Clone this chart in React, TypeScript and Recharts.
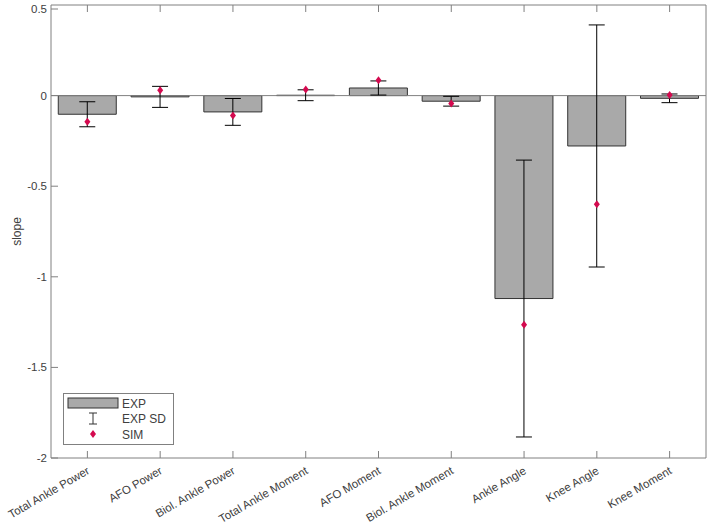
import React from 'react';
import { ComposedChart, Bar, ErrorBar, Scatter, XAxis, YAxis, ReferenceLine } from 'recharts';

// measures compared: experiment (mean + SD) vs simulation
const categories = [
  'Total Ankle Power',
  'AFO Power',
  'Biol. Ankle Power',
  'Total Ankle Moment',
  'AFO Moment',
  'Biol. Ankle Moment',
  'Ankle Angle',
  'Knee Angle',
  'Knee Moment',
];
const expMean = [-0.103, -0.007, -0.09, 0.002, 0.042, -0.031, -1.12, -0.278, -0.015];
const expSd = [0.069, 0.058, 0.074, 0.03, 0.039, 0.027, 0.764, 0.668, 0.024];
const simValues = [-0.145, 0.03, -0.11, 0.033, 0.085, -0.044, -1.265, -0.6, 0.004];
const yTicks = [-2, -1.5, -1, -0.5, 0, 0.5];

const data = categories.map((name, i) => ({
  name,
  exp: expMean[i],
  sd: expSd[i],
  sim: simValues[i],
}));

const FONT = '"Liberation Sans", Arial, Helvetica, sans-serif';
const AXIS = '#808080';
const TEXT = '#404040';
const BAR_FILL = '#a9a9a9';
const BAR_EDGE = '#333333';
const SIM_COLOR = '#d40a4f';

// matlab style: ticks point inwards on all four sides
const LeftTick = ({ x, y, payload }: any) => (
  <g>
    <line x1={x} x2={x + 7} y1={y} y2={y} stroke={AXIS} />
    <text x={x - 4} y={y} dy="0.35em" textAnchor="end" fontSize={11.5} fill={TEXT} fontFamily={FONT}>
      {String(payload.value)}
    </text>
  </g>
);

const RightTick = ({ x, y }: any) => <line x1={x - 7} x2={x} y1={y} y2={y} stroke={AXIS} />;

const TopTick = ({ x, y }: any) => <line x1={x} x2={x} y1={y} y2={y + 7} stroke={AXIS} />;

const BottomTick = ({ x, y, payload }: any) => (
  <g>
    <line x1={x} x2={x} y1={y} y2={y - 7} stroke={AXIS} />
    <text
      x={x + 3}
      y={y + 15}
      textAnchor="end"
      fontSize={11.5}
      fill={TEXT}
      fontFamily={FONT}
      transform={`rotate(-30, ${x + 3}, ${y + 15})`}
    >
      {payload.value}
    </text>
  </g>
);

const diamond = (cx: number, cy: number) =>
  `M${cx},${cy - 4} L${cx + 3},${cy} L${cx},${cy + 4} L${cx - 3},${cy} Z`;

const SimMarker = ({ cx, cy }: any) => <path d={diamond(cx, cy)} fill={SIM_COLOR} />;

function LegendBox() {
  return (
    <svg width={708} height={525} style={{ position: 'absolute', left: 0, top: 0, pointerEvents: 'none' }}>
      <rect x={63.5} y={393.5} width={110} height={51} fill="#fff" stroke={AXIS} />
      <rect x={68} y={398} width={50} height={10} fill={BAR_FILL} stroke={BAR_EDGE} />
      <text x={122} y={407.5} fontSize={12} fill={TEXT} fontFamily={FONT}>EXP</text>
      <line x1={93} x2={93} y1={413} y2={424} stroke={BAR_EDGE} />
      <line x1={89} x2={97} y1={413} y2={413} stroke={BAR_EDGE} />
      <line x1={89} x2={97} y1={424} y2={424} stroke={BAR_EDGE} />
      <text x={122} y={423} fontSize={12} fill={TEXT} fontFamily={FONT}>EXP SD</text>
      <path d={diamond(93, 434)} fill={SIM_COLOR} />
      <text x={122} y={438.5} fontSize={12} fill={TEXT} fontFamily={FONT}>SIM</text>
    </svg>
  );
}

export default function App() {
  return (
    <div style={{ position: 'absolute', left: 0, top: 0, width: 708, height: 525, background: '#fff' }}>
      <ComposedChart
        width={708}
        height={525}
        data={data}
        margin={{ top: 4, right: 1, left: 0, bottom: 0 }}
        barCategoryGap="10%"
      >
        <XAxis
          dataKey="name"
          interval={0}
          height={67}
          tickSize={0}
          tickMargin={0}
          tickLine={false}
          axisLine={{ stroke: AXIS }}
          tick={<BottomTick />}
        />
        <XAxis
          xAxisId="top"
          dataKey="name"
          orientation="top"
          interval={0}
          height={1}
          tickSize={0}
          tickMargin={0}
          tickLine={false}
          axisLine={{ stroke: AXIS }}
          tick={<TopTick />}
        />
        <YAxis
          domain={[-2, 0.5]}
          ticks={yTicks}
          width={51}
          tickSize={0}
          tickMargin={0}
          tickLine={false}
          axisLine={{ stroke: AXIS }}
          tick={<LeftTick />}
          label={{
            value: 'slope',
            angle: -90,
            position: 'center',
            dx: -9,
            fontSize: 12,
            fill: TEXT,
            fontFamily: FONT,
          }}
        />
        <YAxis
          yAxisId="right"
          orientation="right"
          domain={[-2, 0.5]}
          ticks={yTicks}
          width={1}
          tickSize={0}
          tickMargin={0}
          tickLine={false}
          axisLine={{ stroke: AXIS }}
          tick={<RightTick />}
        />
        <ReferenceLine y={0} stroke={AXIS} />
        <Bar dataKey="exp" fill={BAR_FILL} stroke={BAR_EDGE} strokeWidth={1} isAnimationActive={false}>
          <ErrorBar dataKey="sd" width={8} stroke="#000" strokeWidth={1} />
        </Bar>
        <Scatter dataKey="sim" fill={SIM_COLOR} shape={<SimMarker />} isAnimationActive={false} />
      </ComposedChart>
      <LegendBox />
    </div>
  );
}
